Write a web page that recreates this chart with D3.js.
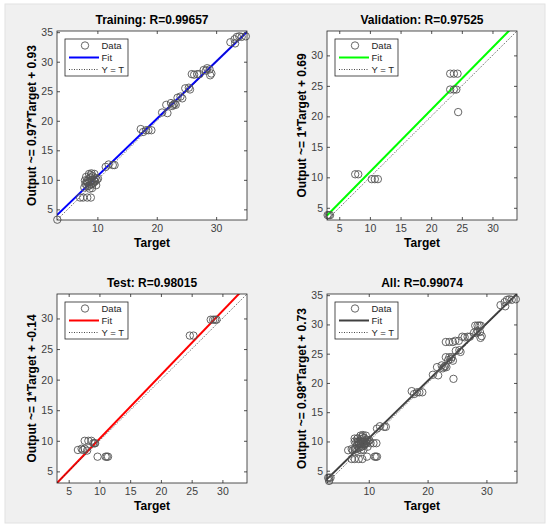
<!DOCTYPE html>
<html>
<head>
<meta charset="utf-8">
<script src="https://cdn.jsdelivr.net/npm/d3@7"></script>
<style>
  body { margin: 0; background: #fff; }
  svg { display: block; font-family: "Liberation Sans", Arial, sans-serif; }
</style>
</head>
<body>
<div id="chart"></div>
<script>
// [target, output] pairs
const trainingPoints = [
  [3.25, 3.25],
  [7.1, 7.0], [7.6, 7.0], [8.3, 7.0], [8.9, 7.0],
  [7.8, 8.7], [8.0, 9.3], [8.2, 9.8], [8.3, 8.9], [8.4, 9.5], [8.5, 10.1], [8.6, 9.0],
  [8.7, 9.7], [8.8, 10.4], [8.9, 9.2], [9.0, 9.9], [9.0, 11.1], [9.1, 8.6], [9.2, 10.6],
  [9.3, 9.5], [9.4, 10.0], [9.5, 11.0], [9.6, 9.7], [9.7, 10.3], [9.8, 9.1], [8.1, 10.5],
  [8.6, 11.0], [9.9, 10.0], [8.3, 9.6], [9.2, 9.3], [8.7, 8.5], [9.5, 9.8], [8.9, 10.8],
  [10.1, 10.2], [7.9, 9.9],
  [11.4, 12.2], [11.9, 12.6], [12.6, 12.5], [12.9, 12.5],
  [17.3, 18.6], [17.7, 18.1], [18.2, 18.4], [18.6, 18.4], [19.1, 18.4],
  [20.9, 21.4], [21.8, 21.3], [21.6, 22.7], [22.4, 23.0], [22.8, 22.7], [23.2, 22.7],
  [22.6, 22.5], [23.0, 22.9], [23.5, 23.9], [24.0, 24.1], [24.3, 23.8], [24.8, 25.5],
  [25.4, 25.6], [25.6, 25.3],
  [25.9, 27.9], [26.3, 27.8], [26.8, 27.9], [27.2, 27.9], [27.9, 28.6], [28.5, 28.9],
  [28.3, 28.5], [28.9, 28.7], [29.2, 28.0], [29.0, 27.7],
  [32.4, 33.3], [33.1, 33.8], [33.2, 33.1], [33.5, 34.2], [33.9, 34.3], [34.3, 34.2], [35.0, 34.3]
];
const validationPoints = [
  [3.1, 3.8], [3.3, 3.8], [3.5, 3.8],
  [7.6, 10.5], [8.1, 10.5],
  [10.3, 9.7], [10.8, 9.7], [11.3, 9.7],
  [23.1, 27.0], [23.7, 27.0], [24.3, 27.0],
  [23.1, 24.4], [23.7, 24.4], [24.1, 24.4],
  [24.4, 20.7]
];
const testPoints = [
  [6.5, 8.5], [7.1, 8.7], [7.6, 8.7], [7.3, 8.5], [8.0, 8.4],
  [7.6, 10.0], [8.2, 10.0], [8.7, 10.0],
  [9.0, 9.6], [9.2, 9.6], [9.3, 9.6],
  [9.7, 7.4], [11.0, 7.4], [11.2, 7.4], [11.4, 7.4],
  [24.7, 27.2], [25.3, 27.2],
  [28.1, 29.8], [28.5, 29.8], [28.8, 29.8], [29.05, 29.8]
];
const allPoints = trainingPoints.concat(validationPoints, testPoints);

const panelNames = ["Training", "Validation", "Test", "All"];
const rValues = ["0.99657", "0.97525", "0.98015", "0.99074"];
const fitLabels = ["0.97*Target + 0.93", "1*Target + 0.69", "1*Target + -0.14", "0.98*Target + 0.73"];
const fitSlopes = [0.97, 1.02, 1.045, 0.98];
const fitIntercepts = [0.93, 0.69, -0.14, 0.73];
const axisLimits = [[3.2, 35.2], [3.0, 34.0], [3.1, 34.0], [2.9, 35.2]];
const xTickValues = [[10, 20, 30], [5, 10, 15, 20, 25, 30], [5, 10, 15, 20, 25, 30], [10, 20, 30]];
const yTickValues = [[5, 10, 15, 20, 25, 30, 35], [5, 10, 15, 20, 25, 30], [5, 10, 15, 20, 25, 30], [5, 10, 15, 20, 25, 30, 35]];
const legendLabels = ["Data", "Fit", "Y = T"];

const pointSets = [trainingPoints, validationPoints, testPoints, allPoints];
const fitColors = ["#0000ff", "#00ff00", "#ff0000", "#404040"];
const panelPos = [[57, 31], [327, 31], [57, 294], [327, 294]];
const boxW = 190, boxH = 189;
const ink = "#262626";

const svg = d3.select("#chart").append("svg")
  .attr("width", 550)
  .attr("height", 530);

// figure background
svg.append("rect")
  .attr("x", 5).attr("y", 4)
  .attr("width", 540).attr("height", 519)
  .attr("fill", "#f0f0f0")
  .attr("stroke", "#e2e2e2");

panelNames.forEach((name, i) => {
  const [left, top] = panelPos[i];
  const x = d3.scaleLinear().domain(axisLimits[i]).range([0, boxW]);
  const y = d3.scaleLinear().domain(axisLimits[i]).range([boxH, 0]);

  const g = svg.append("g").attr("transform", `translate(${left},${top})`);

  g.append("rect")
    .attr("width", boxW).attr("height", boxH)
    .attr("fill", "#fff");

  g.append("clipPath").attr("id", "clip" + i)
    .append("rect").attr("width", boxW).attr("height", boxH);

  // ticks, inward on all four sides
  const bottom = g.append("g").attr("transform", `translate(0,${boxH})`)
    .call(d3.axisBottom(x).tickValues(xTickValues[i]).tickSizeInner(-3).tickSizeOuter(0).tickPadding(5));
  const leftAx = g.append("g")
    .call(d3.axisLeft(y).tickValues(yTickValues[i]).tickSizeInner(-3).tickSizeOuter(0).tickPadding(4));
  g.append("g")
    .call(d3.axisTop(x).tickValues(xTickValues[i]).tickSizeInner(-3).tickSizeOuter(0).tickFormat(""));
  g.append("g").attr("transform", `translate(${boxW},0)`)
    .call(d3.axisRight(y).tickValues(yTickValues[i]).tickSizeInner(-3).tickSizeOuter(0).tickFormat(""));

  g.selectAll(".domain").remove();
  g.selectAll(".tick line").attr("stroke", ink).attr("stroke-width", 0.8);
  g.selectAll(".tick text")
    .attr("fill", "#404040")
    .style("font-size", "10.5px")
    .style("font-family", "\"Liberation Sans\", Arial, sans-serif");

  const plot = g.append("g").attr("clip-path", `url(#clip${i})`);

  // fit line
  const lim = axisLimits[i];
  plot.append("line")
    .attr("x1", x(lim[0])).attr("y1", y(fitSlopes[i] * lim[0] + fitIntercepts[i]))
    .attr("x2", x(lim[1])).attr("y2", y(fitSlopes[i] * lim[1] + fitIntercepts[i]))
    .attr("stroke", fitColors[i])
    .attr("stroke-width", 2);

  // Y = T
  plot.append("line")
    .attr("x1", x(lim[0])).attr("y1", y(lim[0]))
    .attr("x2", x(lim[1])).attr("y2", y(lim[1]))
    .attr("stroke", "#333")
    .attr("stroke-width", 0.9)
    .attr("stroke-dasharray", "1,1.5");

  // data markers (not clipped, like matlab)
  g.append("g")
    .selectAll("circle")
    .data(pointSets[i])
    .join("circle")
    .attr("cx", d => x(d[0]))
    .attr("cy", d => y(d[1]))
    .attr("r", 3.7)
    .attr("fill", "none")
    .attr("stroke", "#555")
    .attr("stroke-width", 0.9);

  // box
  g.append("rect")
    .attr("width", boxW).attr("height", boxH)
    .attr("fill", "none")
    .attr("stroke", ink)
    .attr("stroke-width", 0.8);

  // title and axis labels
  g.append("text")
    .attr("x", boxW / 2).attr("y", -7)
    .attr("text-anchor", "middle")
    .attr("font-weight", "bold")
    .attr("font-size", 12)
    .attr("fill", "#000")
    .text(`${name}: R=${rValues[i]}`);

  g.append("text")
    .attr("x", boxW / 2).attr("y", boxH + 27)
    .attr("text-anchor", "middle")
    .attr("font-weight", "bold")
    .attr("font-size", 12)
    .attr("fill", "#000")
    .text("Target");

  g.append("text")
    .attr("transform", `translate(-21,${boxH / 2}) rotate(-90)`)
    .attr("text-anchor", "middle")
    .attr("font-weight", "bold")
    .attr("font-size", 12)
    .attr("fill", "#000")
    .text(`Output ~= ${fitLabels[i]}`);

  // legend
  const lg = g.append("g").attr("transform", "translate(8,8)");
  lg.append("rect")
    .attr("width", 63).attr("height", 37)
    .attr("fill", "#fff")
    .attr("stroke", ink)
    .attr("stroke-width", 0.8);
  lg.append("circle")
    .attr("cx", 20).attr("cy", 6.5).attr("r", 3.7)
    .attr("fill", "none").attr("stroke", "#555").attr("stroke-width", 0.9);
  lg.append("line")
    .attr("x1", 4).attr("x2", 34).attr("y1", 18.5).attr("y2", 18.5)
    .attr("stroke", fitColors[i]).attr("stroke-width", 2);
  lg.append("line")
    .attr("x1", 4).attr("x2", 34).attr("y1", 30.5).attr("y2", 30.5)
    .attr("stroke", "#333").attr("stroke-width", 0.9)
    .attr("stroke-dasharray", "1,1.5");
  lg.selectAll("text.lab")
    .data(legendLabels)
    .join("text")
    .attr("class", "lab")
    .attr("x", 36.5)
    .attr("y", (d, k) => 6.5 + k * 12)
    .attr("dy", "0.35em")
    .attr("font-size", 9.5)
    .attr("fill", ink)
    .text(d => d);
});
</script>
</body>
</html>
